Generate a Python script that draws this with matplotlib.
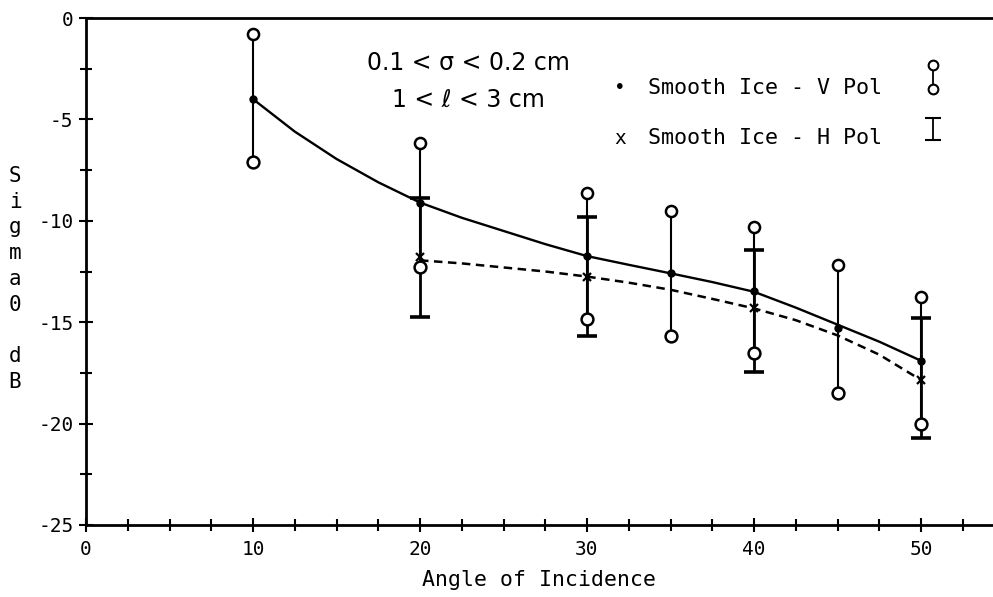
import matplotlib
matplotlib.use("Agg")
import matplotlib.pyplot as plt
from matplotlib.ticker import MultipleLocator

# ---- data ----
angles = [10, 20, 30, 35, 40, 45, 50]
v_pol = [-4.0, -9.1, -11.74, -12.59, -13.46, -15.3, -16.9]
v_hi = [-0.8, -6.18, -8.65, -9.5, -10.32, -12.18, -13.77]
v_lo = [-7.1, -12.26, -14.86, -15.66, -16.53, -18.47, -20.02]

h_angles = [20, 30, 40, 50]
h_pol = [-11.8, -12.75, -14.32, -17.85]
h_hi = [-8.89, -9.8, -11.44, -14.81]
h_lo = [-14.73, -15.66, -17.44, -20.73]

# model curves
v_curve_x = [10, 12.5, 15, 17.5, 20, 22.5, 25, 27.5, 30, 32.5, 35, 37.5, 40, 42.5, 45, 47.5, 50]
v_curve_y = [-4.0, -5.6, -6.95, -8.1, -9.1, -9.85, -10.5, -11.15, -11.74, -12.17, -12.59,
             -13.02, -13.5, -14.28, -15.12, -15.96, -16.9]
h_curve_x = [20, 22.5, 25, 27.5, 30, 32.5, 35, 37.5, 40, 42.5, 45, 47.5, 50]
h_curve_y = [-11.95, -12.1, -12.3, -12.5, -12.75, -13.05, -13.4, -13.85, -14.32, -14.9,
             -15.65, -16.6, -17.85]

x_ticks = [0, 10, 20, 30, 40, 50]
y_ticks = [0, -5, -10, -15, -20, -25]

FONT = ["DejaVu Sans Mono", "DejaVu Sans"]
plt.rcParams["font.family"] = FONT

W, H = 993, 597
fig = plt.figure(figsize=(W / 100, H / 100), dpi=100)
ax_l, ax_r, ax_t, ax_b = 86, 993, 18, 525
ax = fig.add_axes([ax_l / W, 1 - ax_b / H, (ax_r - ax_l) / W, (ax_b - ax_t) / H])
ax.set_xlim(0, (ax_r - ax_l) / 16.7)
ax.set_ylim(-25, 0)

for s in ["left", "bottom", "top"]:
    ax.spines[s].set_linewidth(2.0)
ax.spines["right"].set_visible(False)

ax.set_xticks(x_ticks)
ax.set_yticks(y_ticks)
ax.xaxis.set_minor_locator(MultipleLocator(2.5))
ax.yaxis.set_minor_locator(MultipleLocator(2.5))
ax.tick_params(which="both", direction="inout", width=1.5, labelsize=14)
ax.tick_params(which="major", length=10)
ax.tick_params(which="minor", length=8)
ax.tick_params(axis="x", pad=6)
ax.tick_params(axis="y", pad=4)
ax.set_yticklabels([str(v) for v in y_ticks])

# curves
ax.plot(v_curve_x, v_curve_y, color="black", lw=1.7, zorder=2)
ax.plot(h_curve_x, h_curve_y, color="black", lw=1.8, ls=(0, (3.4, 2.2)), zorder=2)

# V pol error bars: line with open circles at ends
ax.vlines(angles, v_lo, v_hi, color="black", lw=1.5, zorder=3)
ax.plot(angles, v_hi, ls="none", marker="o", ms=8, mfc="white", mec="black", mew=1.8, zorder=5)
ax.plot(angles, v_lo, ls="none", marker="o", ms=8.5, mfc="white", mec="black", mew=1.8, zorder=5)
ax.plot(angles, v_pol, ls="none", marker="o", ms=5, color="black", zorder=6)

# H pol error bars: line with horizontal caps
ax.vlines(h_angles, h_lo, h_hi, color="black", lw=2.0, zorder=3)
ax.plot(h_angles, h_hi, ls="none", marker="_", ms=15, mew=2.6, color="black", zorder=4)
ax.plot(h_angles, h_lo, ls="none", marker="_", ms=15, mew=2.6, color="black", zorder=4)
ax.plot(h_angles, h_pol, ls="none", marker="x", ms=6, mew=1.6, color="black", zorder=6)

# annotations
ax.text(22.9, -2.22, "0.1 < σ < 0.2 cm", ha="center", va="center", fontsize=17,
        family=["DejaVu Sans", "DejaVu Sans Mono"])
ax.text(22.9, -4.04, "1 < ℓ < 3 cm", ha="center", va="center", fontsize=17,
        family=["DejaVu Sans", "DejaVu Sans Mono"])

# legend
ax.text(31.98, -3.45, "•", ha="center", va="center", fontsize=14)
ax.text(33.65, -3.45, "Smooth Ice - V Pol", ha="left", va="center", fontsize=15.6)
ax.text(31.98, -5.92, "x", ha="center", va="center", fontsize=14)
ax.text(33.65, -5.92, "Smooth Ice - H Pol", ha="left", va="center", fontsize=15.6)
ax.plot([50.7, 50.7], [-2.3, -3.5], color="black", lw=1.3, zorder=3)
ax.plot([50.7, 50.7], [-2.3, -3.5], ls="none", marker="o", ms=7, mfc="white",
        mec="black", mew=1.5, zorder=4)
ax.plot([50.7, 50.7], [-4.93, -6.0], color="black", lw=1.3)
ax.plot([50.7, 50.7], [-4.93, -6.0], ls="none", marker="_", ms=12, mew=1.5, color="black")

# labels
ax.set_xlabel("Angle of Incidence", fontsize=15.5, labelpad=8)
fig.text(15 / W, 1 - 279 / H, "S\ni\ng\nm\na\n0\n\nd\nB", ha="center", va="center",
         fontsize=15, linespacing=1.36)

fig.savefig("out.png", dpi=100)
